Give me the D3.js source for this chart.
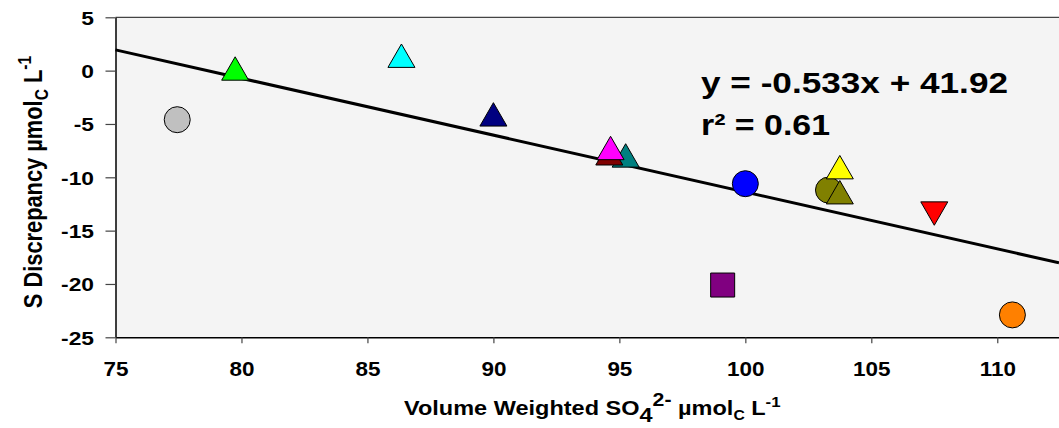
<!DOCTYPE html>
<html>
<head>
<meta charset="utf-8">
<script src="https://d3js.org/d3.v7.min.js"></script>
<style>
  body { margin: 0; background: #fff; }
  text { font-family: "Liberation Sans", Arial, sans-serif; font-weight: bold; fill: #000; }
</style>
</head>
<body>
<svg id="chart" width="1059" height="428"></svg>
<script>
// site values
var so4 = [77.45, 79.75, 86.35, 90.0, 95.25, 94.6, 94.65, 100.0, 103.3, 103.75, 103.75, 107.5, 99.1, 110.6];
var sDisc = [-4.6, 0.2, 1.4, -4.1, -7.95, -7.75, -7.25, -10.6, -11.2, -11.4, -9.05, -13.4, -20.1, -22.9];
var shapes = ['circle', 'up', 'up', 'up', 'up', 'up', 'up', 'circle', 'circle', 'up', 'up', 'down', 'square', 'circle'];
var colors = ['#c0c0c0', '#00ff00', '#00ffff', '#000080', '#008080', '#800000', '#ff00ff', '#0000ff', '#808000', '#808000', '#ffff00', '#ff0000', '#800080', '#ff8000'];
var xTicks = [75, 80, 85, 90, 95, 100, 105, 110];
var yTicks = [5, 0, -5, -10, -15, -20, -25];
var slope = -0.533, intercept = 41.92;

(function () {
    var svg = d3.select('#chart');
    var pLeft = 115.5, pRight = 1059, pTop = 17.3, pBottom = 337.3;

    var x = d3.scaleLinear().domain([75, 112.45]).range([pLeft, pRight]);
    var y = d3.scaleLinear().domain([-25, 5]).range([pBottom, pTop]);
    var plain = function (d) { return String(d); };   // keep ascii hyphen

    // plot background
    svg.append('rect')
        .attr('x', pLeft).attr('y', pTop)
        .attr('width', pRight - pLeft).attr('height', pBottom - pTop)
        .attr('fill', '#f4f4f4');

    // top border
    svg.append('line')
        .attr('x1', pLeft).attr('x2', pRight)
        .attr('y1', pTop).attr('y2', pTop)
        .attr('stroke', '#444').attr('stroke-width', 1.2);

    // y axis
    var yAxis = svg.append('g')
        .attr('transform', 'translate(' + pLeft + ',0)')
        .call(d3.axisLeft(y).tickValues(yTicks).tickFormat(plain).tickSize(10).tickSizeOuter(0));
    yAxis.select('.domain').attr('stroke', '#000').attr('stroke-width', 1.5);
    yAxis.selectAll('.tick line').attr('stroke', '#444').attr('stroke-width', 1.2);
    yAxis.selectAll('.tick text')
        .attr('x', -21.5 / 1.2).attr('dy', '0.36em')
        .attr('transform', 'scale(1.2,1)')
        .style('font-size', '19px');

    // x axis
    var xAxis = svg.append('g')
        .attr('transform', 'translate(0,' + pBottom + ')')
        .call(d3.axisBottom(x).tickValues(xTicks).tickFormat(plain).tickSize(6).tickSizeOuter(0));
    xAxis.select('.domain').attr('stroke', '#000').attr('stroke-width', 1.5);
    xAxis.selectAll('.tick line').attr('stroke', '#444').attr('stroke-width', 1.2);
    xAxis.selectAll('.tick text')
        .attr('y', 38.5).attr('dy', 0)
        .attr('transform', 'scale(1.07,1)')
        .style('font-size', '21px');

    // regression line
    var xd = x.domain();
    svg.append('line')
        .attr('x1', x(xd[0])).attr('y1', y(slope * xd[0] + intercept))
        .attr('x2', x(xd[1])).attr('y2', y(slope * xd[1] + intercept))
        .attr('stroke', '#000').attr('stroke-width', 3);

    // markers
    function markerPath(shape) {
        var p = d3.path();
        if (shape === 'circle') {
            p.arc(0, 0, 13, 0, 2 * Math.PI);
        } else if (shape === 'up') {
            p.moveTo(0, -11.7); p.lineTo(13.5, 11.7); p.lineTo(-13.5, 11.7); p.closePath();
        } else if (shape === 'down') {
            p.moveTo(0, 11.7); p.lineTo(13.5, -11.7); p.lineTo(-13.5, -11.7); p.closePath();
        } else {
            p.rect(-12, -12, 24, 24);
        }
        return p.toString();
    }

    svg.append('g').selectAll('path')
        .data(d3.range(so4.length))
        .join('path')
        .attr('transform', function (i) { return 'translate(' + x(so4[i]) + ',' + y(sDisc[i]) + ')'; })
        .attr('d', function (i) { return markerPath(shapes[i]); })
        .attr('fill', function (i) { return colors[i]; })
        .attr('stroke', '#000').attr('stroke-width', 1);

    // equation
    svg.append('text')
        .attr('x', 701).attr('y', 93)
        .attr('textLength', 307).attr('lengthAdjust', 'spacingAndGlyphs')
        .style('font-size', '30px')
        .text('y = ' + slope + 'x + ' + intercept);
    svg.append('text')
        .attr('x', 701).attr('y', 135)
        .attr('textLength', 129).attr('lengthAdjust', 'spacingAndGlyphs')
        .style('font-size', '30px')
        .text('r\u00b2 = 0.61');

    // x axis title
    var xt = svg.append('text')
        .attr('transform', 'translate(404,415) scale(1.12,1)')
        .style('font-size', '21px');
    xt.append('tspan').text('Volume Weighted SO');
    xt.append('tspan').attr('dy', 7).text('4');
    xt.append('tspan').attr('dy', -16).style('font-size', '19px').text('2-');
    xt.append('tspan').attr('dy', 9).text(' \u00b5mol');
    xt.append('tspan').attr('dy', 5).style('font-size', '14px').text('C');
    xt.append('tspan').attr('dy', -5).text(' L');
    xt.append('tspan').attr('dy', -8).style('font-size', '15px').text('-1');

    // y axis title
    var yt = svg.append('text')
        .attr('transform', 'translate(42,182) rotate(-90) scale(1.04,1.2)')
        .attr('text-anchor', 'middle')
        .style('font-size', '21px');
    yt.append('tspan').text('S Discrepancy \u00b5mol');
    yt.append('tspan').attr('dy', 5).style('font-size', '15px').text('C');
    yt.append('tspan').attr('dy', -5).text(' L');
    yt.append('tspan').attr('dy', -9).style('font-size', '15px').text('-1');
})();
</script>
</body>
</html>
